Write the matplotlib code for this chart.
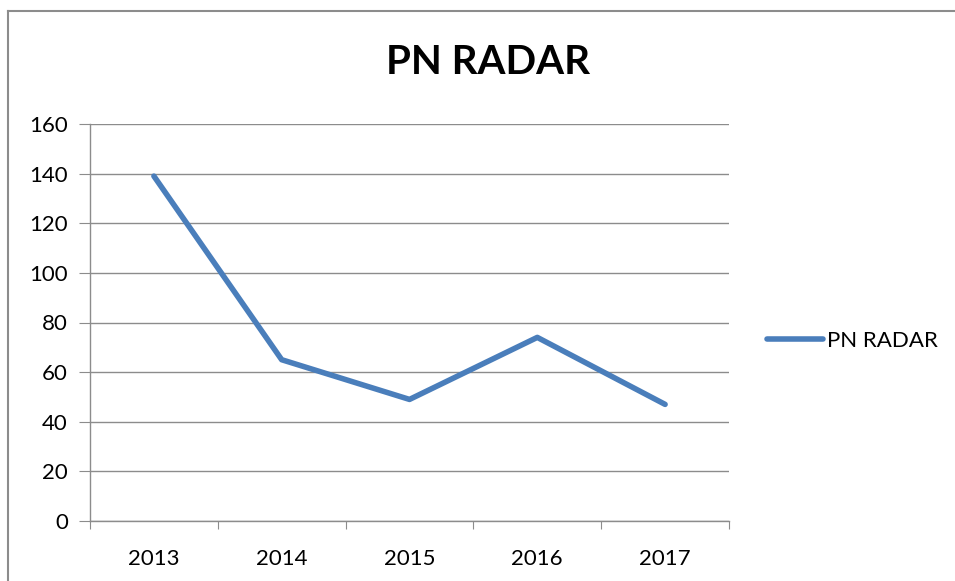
import matplotlib
matplotlib.use("Agg")
import matplotlib.pyplot as plt
from matplotlib.lines import Line2D

years = ["2013", "2014", "2015", "2016", "2017"]
pn_radar = [139, 65, 49, 74, 47]
y_ticks = [0, 20, 40, 60, 80, 100, 120, 140, 160]

plt.rcParams['font.family'] = ['Lato', 'DejaVu Sans']

W, H = 955, 581
fig = plt.figure(figsize=(W / 100, H / 100), dpi=100)

# outer chart frame (only left/top visible, the rest is cropped)
fig.add_artist(Line2D([8 / W, 8 / W], [0, 1 - 11 / H], color="#8c8c8c", lw=1.5))
fig.add_artist(Line2D([8 / W, 1], [1 - 11 / H, 1 - 11 / H], color="#8c8c8c", lw=1.5))

ax = fig.add_axes([90 / W, 1 - 521 / H, (729 - 90) / W, (521 - 124) / H])
x = list(range(len(years)))
line, = ax.plot(x, pn_radar, color="#4a7ebb", lw=4, solid_capstyle="round",
                solid_joinstyle="round", label="PN RADAR", clip_on=False)

ax.set_xlim(-0.5, len(years) - 0.5)
ax.set_ylim(0, 160)
ax.set_yticks(y_ticks)
ax.set_xticks([i - 0.5 for i in range(len(years) + 1)], minor=False)
ax.set_xticklabels([])
ax.set_xticks(x, minor=True)
ax.set_xticklabels(years, minor=True)
ax.tick_params(axis="x", which="minor", length=0, pad=20, labelsize=16)
ax.tick_params(axis="x", which="major", length=6, color="#8c8c8c", direction="out")
ax.tick_params(axis="y", length=8, color="#8c8c8c", labelsize=16, pad=8)

ax.grid(axis="y", color="#8c8c8c", lw=1)
ax.set_axisbelow(True)
for s in ["top", "right"]:
    ax.spines[s].set_visible(False)
for s in ["left", "bottom"]:
    ax.spines[s].set_color("#8c8c8c")
    ax.spines[s].set_linewidth(1)

fig.text(488 / W, 1 - 62 / H, "PN RADAR", ha="center", va="center",
         fontsize=29, fontweight="bold")

fig.legend(handles=[line], loc="center left", bbox_to_anchor=(767 / W, 1 - 341 / H),
           frameon=False, fontsize=16, handlelength=2.5, handletextpad=0.2,
           borderaxespad=0, borderpad=0)

fig.savefig("out.png", dpi=100)
